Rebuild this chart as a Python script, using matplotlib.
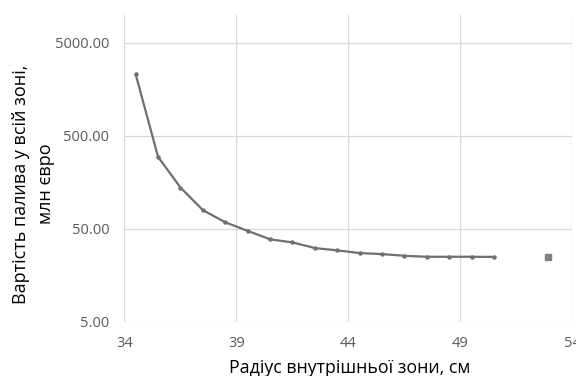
import matplotlib
matplotlib.use("Agg")
import matplotlib.pyplot as plt
from matplotlib.ticker import FixedLocator, FixedFormatter, NullLocator

radius = [34.5, 35.5, 36.5, 37.5, 38.5, 39.5, 40.5, 41.5, 42.5, 43.5,
          44.5, 45.5, 46.5, 47.5, 48.5, 49.5, 50.5]
cost = [2300, 297, 139, 79.4, 58.7, 47.5, 38.5, 35.7, 31.0, 29.3,
        27.4, 26.7, 25.6, 25.0, 25.0, 25.0, 24.9]
extra_radius = [52.9]
extra_cost = [25.0]

x_ticks = [34, 39, 44, 49, 54]
y_ticks = [5, 50, 500, 5000]
y_tick_labels = ["5.00", "50.00", "500.00", "5000.00"]

plt.rcParams['font.family'] = ['Open Sans', 'DejaVu Sans']

fig = plt.figure(figsize=(5.76, 3.76), dpi=100)
ax = fig.add_axes([0.2161, 0.1444, 0.7778, 0.8157])

ax.plot(radius, cost, color="#6f6f6f", lw=1.6, marker="o", ms=2.2,
        mfc="#6f6f6f", mec="#6f6f6f", zorder=3)
ax.plot(extra_radius, extra_cost, ls="none", marker="s", ms=4.5,
        color="#808080", zorder=3)

ax.set_yscale("log")
ax.set_xlim(34, 54)
ax.set_ylim(5, 10000)
ax.xaxis.set_major_locator(FixedLocator(x_ticks))
ax.yaxis.set_major_locator(FixedLocator(y_ticks))
ax.yaxis.set_major_formatter(FixedFormatter(y_tick_labels))
ax.yaxis.set_minor_locator(NullLocator())
ax.grid(True, color="#d9d9d9", lw=0.9)
ax.set_axisbelow(True)
for s in ax.spines.values():
    s.set_visible(False)
ax.tick_params(length=0, labelsize=10.5, labelcolor="#595959")
ax.tick_params(axis="y", pad=11)
ax.tick_params(axis="x", pad=10)
for lbl in ax.get_xticklabels():
    lbl.set_clip_on(False)

fig.text(0.059, 0.511, "Вартість палива у всій зоні,\nмлн євро", rotation=90,
         ha="center", va="center", fontsize=13, color="#000000",
         linespacing=1.5)
fig.text(0.607, 0.022, "Радіус внутрішньої зони, см", ha="center", va="center",
         fontsize=12.8, color="#000000")

fig.savefig("out.png", dpi=100)
